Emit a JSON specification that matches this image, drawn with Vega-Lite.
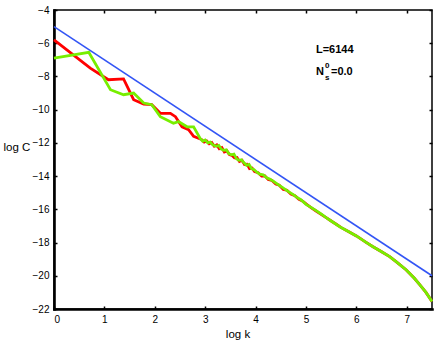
{
  "$schema": "https://vega.github.io/schema/vega-lite/v6.json",
  "width": 378,
  "height": 299,
  "autosize": {"type": "none"},
  "padding": {"left": 54, "top": 10, "right": 4, "bottom": 34},
  "background": "white",
  "config": {
    "font": "Liberation Sans",
    "view": {"stroke": "black", "strokeWidth": 1.5},
    "axis": {
      "grid": false,
      "domain": false,
      "tickColor": "black",
      "tickWidth": 1.5,
      "tickSize": -3,
      "labelFont": "Liberation Sans",
      "labelFontSize": 10,
      "labelColor": "black",
      "titleFont": "Liberation Sans",
      "titleFontSize": 11.5,
      "titleFontWeight": "normal",
      "titleColor": "black"
    }
  },
  "datasets": {
    "blue": [{"x": 0, "y": -5}, {"x": 7.5, "y": -20}],
    "red": [
      {"x": 0, "y": -5.8}, {"x": 0.72, "y": -7.5}, {"x": 1.08, "y": -8.2}, {"x": 1.38, "y": -8.15},
      {"x": 1.58, "y": -9.4}, {"x": 1.78, "y": -9.66}, {"x": 1.94, "y": -9.7}, {"x": 2.11, "y": -10.22},
      {"x": 2.31, "y": -10.22}, {"x": 2.41, "y": -10.42}, {"x": 2.54, "y": -11.03}, {"x": 2.67, "y": -11.2},
      {"x": 2.77, "y": -11.6}, {"x": 2.93, "y": -11.8}, {"x": 2.98, "y": -11.95}, {"x": 3.03, "y": -11.88},
      {"x": 3.08, "y": -12.05}, {"x": 3.13, "y": -11.98}, {"x": 3.18, "y": -12.2}, {"x": 3.23, "y": -12.12},
      {"x": 3.28, "y": -12.35}, {"x": 3.33, "y": -12.28}, {"x": 3.38, "y": -12.55}, {"x": 3.43, "y": -12.48},
      {"x": 3.48, "y": -12.7}, {"x": 3.53, "y": -12.75}, {"x": 3.58, "y": -12.9}, {"x": 3.63, "y": -12.88},
      {"x": 3.68, "y": -13.12}, {"x": 3.73, "y": -13.05}, {"x": 3.78, "y": -13.3}, {"x": 3.83, "y": -13.28},
      {"x": 3.88, "y": -13.55}, {"x": 3.93, "y": -13.52}, {"x": 3.98, "y": -13.72}, {"x": 4.05, "y": -13.8},
      {"x": 4.12, "y": -14.0}, {"x": 4.18, "y": -13.98}, {"x": 4.25, "y": -14.2}, {"x": 4.32, "y": -14.25},
      {"x": 4.4, "y": -14.48}, {"x": 4.47, "y": -14.55}, {"x": 4.55, "y": -14.8}, {"x": 4.62, "y": -14.85},
      {"x": 4.7, "y": -15.08}, {"x": 4.78, "y": -15.18}, {"x": 4.86, "y": -15.4}, {"x": 4.94, "y": -15.52},
      {"x": 5.02, "y": -15.72}, {"x": 5.1, "y": -15.9}, {"x": 5.2, "y": -16.1}, {"x": 5.3, "y": -16.3},
      {"x": 5.4, "y": -16.5}, {"x": 5.5, "y": -16.7}, {"x": 5.6, "y": -16.9}, {"x": 5.7, "y": -17.1},
      {"x": 5.85, "y": -17.35}, {"x": 6.0, "y": -17.6}, {"x": 6.2, "y": -18.0}, {"x": 6.33, "y": -18.25},
      {"x": 6.5, "y": -18.55}, {"x": 6.66, "y": -18.85}, {"x": 6.8, "y": -19.18}, {"x": 6.99, "y": -19.65},
      {"x": 7.15, "y": -20.15}, {"x": 7.26, "y": -20.55}, {"x": 7.38, "y": -21.0}, {"x": 7.5, "y": -21.55}
    ],
    "green": [
      {"x": 0, "y": -6.9}, {"x": 0.69, "y": -6.55}, {"x": 1.12, "y": -8.8}, {"x": 1.38, "y": -9.1},
      {"x": 1.58, "y": -9.0}, {"x": 1.78, "y": -9.6}, {"x": 1.94, "y": -9.7}, {"x": 2.11, "y": -10.42},
      {"x": 2.37, "y": -10.82}, {"x": 2.47, "y": -10.72}, {"x": 2.64, "y": -11.03}, {"x": 2.77, "y": -11.03},
      {"x": 2.9, "y": -11.73}, {"x": 2.95, "y": -11.9}, {"x": 3.0, "y": -11.82}, {"x": 3.05, "y": -12.0},
      {"x": 3.1, "y": -11.95}, {"x": 3.15, "y": -12.12}, {"x": 3.22, "y": -12.2}, {"x": 3.27, "y": -12.15},
      {"x": 3.32, "y": -12.38}, {"x": 3.37, "y": -12.45}, {"x": 3.42, "y": -12.42}, {"x": 3.47, "y": -12.65},
      {"x": 3.52, "y": -12.72}, {"x": 3.57, "y": -12.68}, {"x": 3.62, "y": -12.95}, {"x": 3.67, "y": -13.05},
      {"x": 3.72, "y": -13.02}, {"x": 3.77, "y": -13.2}, {"x": 3.82, "y": -13.35}, {"x": 3.87, "y": -13.3},
      {"x": 3.92, "y": -13.55}, {"x": 3.97, "y": -13.62}, {"x": 4.02, "y": -13.75}, {"x": 4.08, "y": -13.88},
      {"x": 4.15, "y": -13.92}, {"x": 4.22, "y": -14.1}, {"x": 4.28, "y": -14.18}, {"x": 4.35, "y": -14.3},
      {"x": 4.42, "y": -14.45}, {"x": 4.5, "y": -14.62}, {"x": 4.58, "y": -14.78}, {"x": 4.66, "y": -14.95},
      {"x": 4.74, "y": -15.1}, {"x": 4.82, "y": -15.28}, {"x": 4.9, "y": -15.42}, {"x": 5.0, "y": -15.7},
      {"x": 5.1, "y": -15.88}, {"x": 5.2, "y": -16.08}, {"x": 5.3, "y": -16.28}, {"x": 5.4, "y": -16.5},
      {"x": 5.5, "y": -16.7}, {"x": 5.67, "y": -17.05}, {"x": 5.85, "y": -17.35}, {"x": 6.0, "y": -17.6},
      {"x": 6.2, "y": -18.0}, {"x": 6.33, "y": -18.25}, {"x": 6.5, "y": -18.55}, {"x": 6.66, "y": -18.85},
      {"x": 6.8, "y": -19.18}, {"x": 6.99, "y": -19.65}, {"x": 7.15, "y": -20.15}, {"x": 7.26, "y": -20.55},
      {"x": 7.38, "y": -21.0}, {"x": 7.5, "y": -21.55}
    ],
    "bigtext": [
      {"x": 5.198, "y": -6.607, "t": "L=6144"},
      {"x": 5.198, "y": -7.883, "t": "N"},
      {"x": 5.496, "y": -7.883, "t": "=0.0"}
    ],
    "suptext": [{"x": 5.377, "y": -7.51, "t": "0"}],
    "subtext": [{"x": 5.377, "y": -8.214, "t": "s"}]
  },
  "layer": [
    {
      "encoding": {
        "x": {
          "field": "x", "type": "quantitative",
          "scale": {"domain": [0, 7.5], "nice": false, "zero": false},
          "axis": {"orient": "bottom", "values": [0, 1, 2, 3, 4, 5, 6, 7], "title": "log k", "labelPadding": 8,
                   "domain": true, "domainColor": "black", "domainWidth": 2.6, "domainCap": "square",
                   "titleX": 183.5, "titleY": 28, "titleBaseline": "alphabetic", "titleAnchor": null, "titleAlign": "center"}
        },
        "y": {
          "field": "y", "type": "quantitative",
          "scale": {"domain": [-22, -4], "nice": false, "zero": false},
          "axis": {"orient": "left", "values": [-22, -20, -18, -16, -14, -12, -10, -8, -6, -4], "title": "log C", "labelPadding": 8,
                   "domain": true, "domainColor": "black", "domainWidth": 2.6, "domainCap": "square",
                   "titleAngle": 0, "titleX": -51, "titleY": 140.5, "titleAlign": "left", "titleBaseline": "alphabetic", "titleAnchor": null}
        }
      },
      "layer": [
        {"data": {"name": "blue"}, "mark": {"type": "line", "color": "#3355f5", "strokeWidth": 1.6}},
        {"data": {"name": "red"}, "mark": {"type": "line", "color": "#ff0000", "strokeWidth": 2.8}},
        {"data": {"name": "green"}, "mark": {"type": "line", "color": "#77ee00", "strokeWidth": 2.8}}
      ]
    },
    {
      "encoding": {
        "x": {
          "field": "x", "type": "quantitative",
          "scale": {"domain": [0, 7.5], "nice": false, "zero": false},
          "axis": {"orient": "top", "values": [0, 1, 2, 3, 4, 5, 6, 7], "labels": false, "title": null}
        },
        "y": {
          "field": "y", "type": "quantitative",
          "scale": {"domain": [-22, -4], "nice": false, "zero": false},
          "axis": {"orient": "right", "values": [-22, -20, -18, -16, -14, -12, -10, -8, -6, -4], "labels": false, "title": null}
        },
        "text": {"field": "t", "type": "nominal"}
      },
      "layer": [
        {"data": {"name": "bigtext"}, "mark": {"type": "text", "align": "left", "baseline": "alphabetic", "fontSize": 11, "fontWeight": "bold", "color": "black", "font": "Liberation Sans"}},
        {"data": {"name": "suptext"}, "mark": {"type": "text", "align": "left", "baseline": "alphabetic", "fontSize": 8, "fontWeight": "bold", "color": "black", "font": "Liberation Sans"}},
        {"data": {"name": "subtext"}, "mark": {"type": "text", "align": "left", "baseline": "alphabetic", "fontSize": 8, "fontWeight": "bold", "color": "black", "font": "Liberation Sans"}}
      ]
    }
  ],
  "resolve": {"scale": {"x": "independent", "y": "independent"}}
}
